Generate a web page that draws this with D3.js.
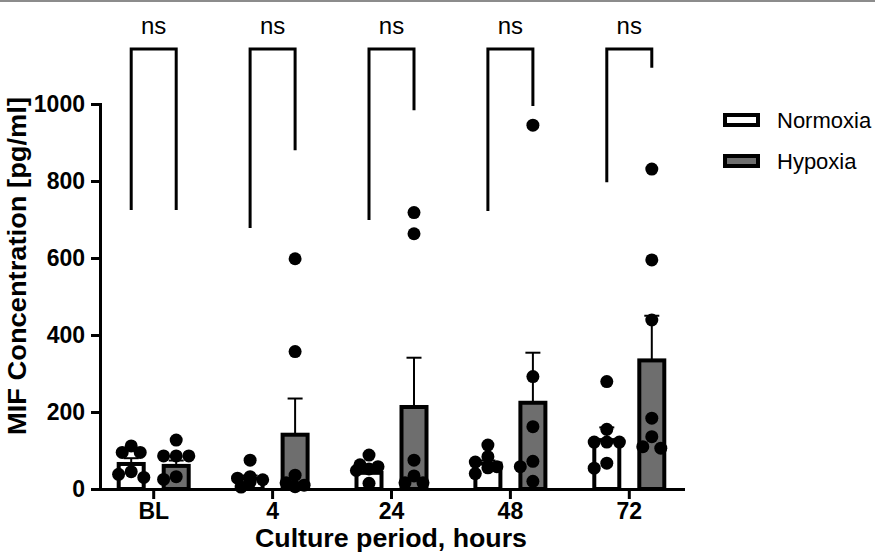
<!DOCTYPE html>
<html><head><meta charset="utf-8">
<script src="https://cdn.jsdelivr.net/npm/d3@7"></script>
<style>body{margin:0;background:#fff} svg{display:block} text{font-family:Arial,"Liberation Sans",sans-serif}</style>
</head><body><svg id="c" width="875" height="552"></svg>
<script>
const groups = ["BL", "4", "24", "48", "72"];
const seriesNames = ["Normoxia", "Hypoxia"];
const normoxiaMean = [65, 27, 42, 66, 127];
const normoxiaSem = [15, 8, 10, 8, 33];
const hypoxiaMean = [60, 141, 213, 224, 334];
const hypoxiaSem = [14, 94, 128, 130, 116];
const normoxiaPoints = [[112, 95, 95, 45, 38, 30], [75, 32, 28, 24, 18, 5], [88, 63, 58, 52, 48, 15], [114, 84, 70, 58, 55, 40], [279, 155, 122, 122, 122, 67, 54]];
const hypoxiaPoints = [[127, 86, 86, 86, 32, 25], [598, 357, 36, 16, 10, 6], [718, 663, 75, 34, 16, 16], [945, 292, 162, 72, 58, 20], [831, 595, 439, 184, 136, 110, 106]];
const yTicks = [0, 200, 400, 600, 800, 1000];
const sigLabels = ["ns", "ns", "ns", "ns", "ns"];
const bracketLeftEnd = [725, 678, 699, 722, 797];
const bracketRightEnd = [725, 880, 984, 995, 1094];
const bracketTop = 1143;
const xTitle = "Culture period, hours";
const yTitle = "MIF Concentration [pg/ml]";

const svg = d3.select("#c");
svg.append("rect").attr("x", 0).attr("y", 0).attr("width", 875).attr("height", 2).attr("fill", "#8c8c8c");

const x = d3.scaleBand().domain(groups).range([100, 683]).paddingInner(0.2).paddingOuter(0.0517);
const xs = d3.scaleBand().domain(seriesNames).range([-45, 45]);
const y = d3.scaleLinear().domain([0, 1000]).range([489, 104]);
const cx = g => x(g) + x.bandwidth() / 2;
const fills = {Normoxia: "#ffffff", Hypoxia: "#6e6e6e"};
const barW = 25;

const series = seriesNames.map((s, si) => ({
  name: s,
  mean: si === 0 ? normoxiaMean : hypoxiaMean,
  sem: si === 0 ? normoxiaSem : hypoxiaSem,
  pts: si === 0 ? normoxiaPoints : hypoxiaPoints
}));

const rows = [];
series.forEach(s => groups.forEach((g, gi) => rows.push({g, s: s.name, mean: s.mean[gi], sem: s.sem[gi], pts: s.pts[gi]})));
const bx = d => cx(d.g) + xs(d.s) + xs.bandwidth() / 2;

// error bars (upward)
const eb = svg.append("g");
rows.forEach(d => {
  const c = bx(d);
  eb.append("line").attr("x1", c).attr("x2", c).attr("y1", y(d.mean)).attr("y2", y(d.mean + d.sem)).attr("stroke", "#000").attr("stroke-width", 2);
  eb.append("line").attr("x1", c - 7.5).attr("x2", c + 7.5).attr("y1", y(d.mean + d.sem)).attr("y2", y(d.mean + d.sem)).attr("stroke", "#000").attr("stroke-width", 2);
});

// bars
svg.append("g").selectAll("rect").data(rows).join("rect")
  .attr("x", d => bx(d) - barW / 2).attr("width", barW)
  .attr("y", d => y(d.mean)).attr("height", d => y(0) - y(d.mean))
  .attr("fill", d => fills[d.s]).attr("stroke", "#000").attr("stroke-width", 4);

// points (deterministic swarm layout)
const r = 6.5, step = 9;
const dots = [];
rows.forEach(d => {
  const c = bx(d);
  const placed = [];
  d.pts.slice().sort((a, b) => b - a).forEach(v => {
    const py = y(v);
    const cands = [0, -step, step, -2 * step * 0.7, 2 * step * 0.7];
    let best = null, bestScore = -1;
    for (const o of cands) {
      const md = placed.length ? d3.min(placed, p => Math.hypot(p[0] - o, p[1] - py)) : 1e9;
      if (md >= 11) { best = o; break; }
      if (md > bestScore) { bestScore = md; best = o; }
    }
    placed.push([best, py]);
    dots.push({x: c + best, y: py});
  });
});
svg.append("g").selectAll("circle").data(dots).join("circle")
  .attr("cx", d => d.x).attr("cy", d => d.y).attr("r", r).attr("fill", "#000");

// axes
const yAx = svg.append("g").attr("transform", "translate(100,0)")
  .call(d3.axisLeft(y).tickValues(yTicks).tickFormat(d3.format("d")).tickSize(9).tickSizeOuter(0).tickPadding(6));
const xAx = svg.append("g").attr("transform", "translate(0,489)")
  .call(d3.axisBottom(x).tickSize(10).tickSizeOuter(0).tickPadding(4));
[yAx, xAx].forEach(a => {
  a.select(".domain").attr("stroke-width", 3).attr("stroke-linecap", "square");
  a.selectAll(".tick line").attr("stroke-width", 3);
  a.selectAll("text").attr("font-size", 23).attr("font-weight", "bold").attr("fill", "#000").style("font-family", "Arial, 'Liberation Sans', sans-serif");
});

// axis titles
svg.append("text").attr("x", 391).attr("y", 547).attr("text-anchor", "middle")
  .attr("font-size", 25).attr("font-weight", "bold")
  .attr("textLength", 272).attr("lengthAdjust", "spacingAndGlyphs").text(xTitle);
svg.append("text").attr("transform", "translate(26,266) rotate(-90)").attr("text-anchor", "middle")
  .attr("font-size", 25).attr("font-weight", "bold")
  .attr("textLength", 338).attr("lengthAdjust", "spacingAndGlyphs").text(yTitle);

// significance brackets
const br = svg.append("g");
groups.forEach((g, gi) => {
  const xl = cx(g) + xs(seriesNames[0]) + xs.bandwidth() / 2;
  const xr = cx(g) + xs(seriesNames[1]) + xs.bandwidth() / 2;
  const path = d3.path();
  path.moveTo(xl, y(bracketLeftEnd[gi]));
  path.lineTo(xl, y(bracketTop));
  path.lineTo(xr, y(bracketTop));
  path.lineTo(xr, y(bracketRightEnd[gi]));
  br.append("path").attr("d", path.toString()).attr("fill", "none").attr("stroke", "#000").attr("stroke-width", 3);
  br.append("text").attr("x", cx(g)).attr("y", 34).attr("text-anchor", "middle").attr("font-size", 24).text(sigLabels[gi]);
});

// legend
const lg = svg.append("g");
seriesNames.forEach((s, i) => {
  const yy = 120 + i * 41;
  lg.append("rect").attr("x", 725).attr("y", yy - 5).attr("width", 33).attr("height", 10)
    .attr("fill", fills[s]).attr("stroke", "#000").attr("stroke-width", 4);
  lg.append("text").attr("x", 777).attr("y", yy + 8).attr("font-size", 22).text(s);
});
</script></body></html>
